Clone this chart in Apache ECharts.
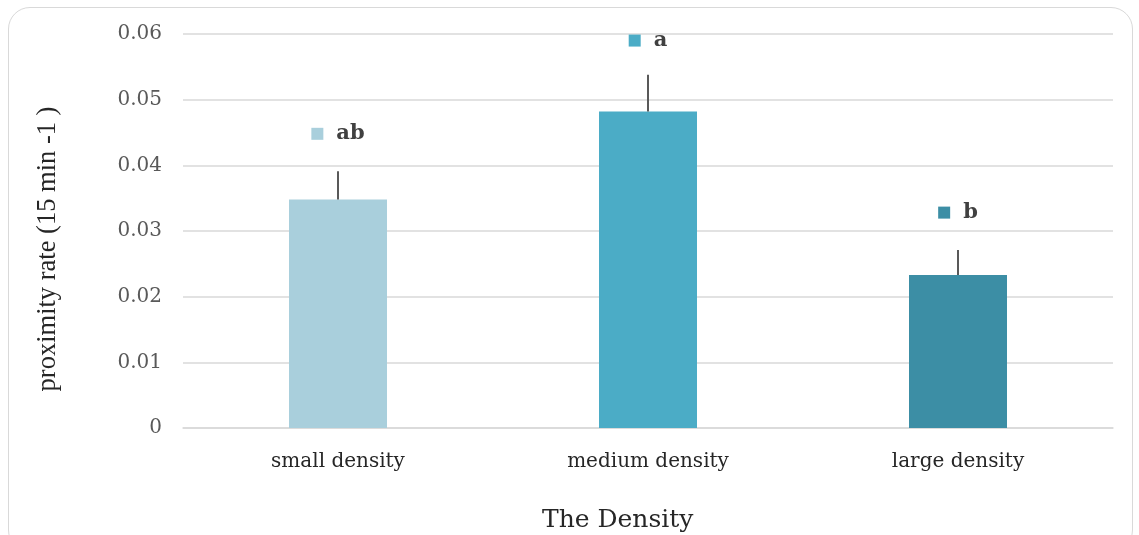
<!DOCTYPE html>
<html>
<head>
<meta charset="utf-8">
<script src="https://cdn.jsdelivr.net/npm/echarts@6/dist/echarts.min.js"></script>
<style>
  html, body { margin: 0; padding: 0; background: #fff; overflow: hidden; }
  #frame {
    position: absolute; left: 8px; top: 7px; width: 1125px; height: 545px;
    border: 1.5px solid #d9d9d9; border-radius: 22px; box-sizing: border-box;
  }
  #chart { position: absolute; left: 0; top: 0; width: 1139px; height: 535px; }
</style>
</head>
<body>
<div id="frame"></div>
<div id="chart"></div>
<script>
// Density groups and measured proximity rate (mean, upper standard error)
const categories = ['small density', 'medium density', 'large density'];
const meanRate = [0.0348, 0.0482, 0.0233];
const upperError = [0.0043, 0.0056, 0.0038];
// Significance letters and the height where each is placed
const sigLetters = ['ab', 'a', 'b'];
const sigLevel = [0.0448, 0.059, 0.0328];
const yTicks = [0, 0.01, 0.02, 0.03, 0.04, 0.05, 0.06];
const barColors = ['#A9CFDC', '#4BACC6', '#3C8EA5'];
const xTitle = 'The Density';
const yTitle = 'proximity rate (15 min -1 )';

const serif = '"DejaVu Serif", "Liberation Serif", serif';

const chart = echarts.init(document.getElementById('chart'), null, { renderer: 'canvas' });

const rich = {
  g: { width: 13 },
  t: { fontFamily: serif, fontWeight: 'bold', fontSize: 21, color: '#404040' }
};
barColors.forEach((c, i) => { rich['sq' + i] = { width: 12, height: 12, backgroundColor: c }; });

chart.setOption({
  animation: false,
  grid: { left: 183, right: 26, top: 34, bottom: 107 },
  graphic: [
    {
      type: 'text', left: 617 - 75, top: 508,
      style: { text: xTitle, font: '25px ' + serif, fill: '#262626', align: 'left' }
    },
    {
      type: 'text', x: 48, y: 249, rotation: Math.PI / 2,
      style: {
        text: yTitle, font: '26.5px "Liberation Serif", serif', fill: '#262626',
        align: 'center', verticalAlign: 'middle'
      }
    }
  ],
  xAxis: {
    type: 'category',
    data: categories,
    axisLine: { lineStyle: { color: '#d9d9d9', width: 1.5 } },
    axisTick: { show: false },
    axisLabel: { fontFamily: serif, fontSize: 20, color: '#262626', margin: 24 }
  },
  yAxis: {
    type: 'value',
    min: yTicks[0],
    max: yTicks[yTicks.length - 1],
    interval: 0.01,
    axisLine: { show: false },
    axisTick: { show: false },
    axisLabel: {
      fontFamily: serif, fontSize: 20, color: '#595959', margin: 21,
      formatter: v => (Math.abs(v) < 1e-9 ? '0' : v.toFixed(2))
    },
    splitLine: { lineStyle: { color: '#d9d9d9', width: 1.5 } }
  },
  series: [
    {
      type: 'bar',
      barWidth: 98,
      data: meanRate.map((v, i) => ({ value: v, itemStyle: { color: barColors[i] } })),
      z: 2
    },
    {
      // upper error whiskers, no caps
      type: 'custom',
      data: meanRate.map((v, i) => [i, v, v + upperError[i]]),
      renderItem: (params, api) => {
        const base = api.coord([api.value(0), api.value(1)]);
        const top = api.coord([api.value(0), api.value(2)]);
        return {
          type: 'line',
          shape: { x1: base[0], y1: base[1], x2: top[0], y2: top[1] },
          style: { stroke: '#595959', lineWidth: 2 }
        };
      },
      z: 3
    },
    {
      // significance letters with colour key
      type: 'scatter',
      symbolSize: 0,
      itemStyle: { opacity: 1 },
      data: sigLevel.map((v, i) => [i, v]),
      label: {
        show: true,
        position: 'inside',
        formatter: p => '{sq' + p.dataIndex + '|}{g|}{t|' + sigLetters[p.dataIndex] + '}',
        rich: rich
      },
      z: 4
    }
  ]
});
</script>
</body>
</html>
